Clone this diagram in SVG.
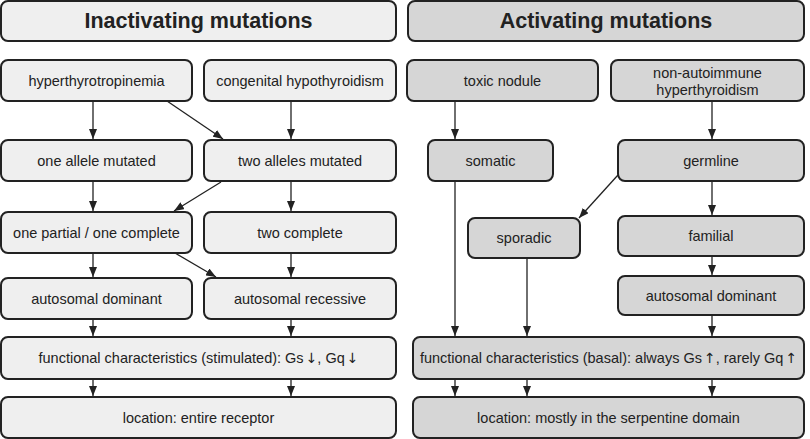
<svg xmlns="http://www.w3.org/2000/svg" width="810" height="439" viewBox="0 0 810 439">
<defs>
<style>
.l rect{fill:#efefef;stroke:#222;stroke-width:2}
.r rect{fill:#d6d6d6;stroke:#222;stroke-width:2}
text{font-family:"Liberation Sans",Arial,sans-serif;font-size:14.5px;fill:#222;text-anchor:middle;dominant-baseline:central}
text.t{font-size:21.5px;font-weight:bold}
tspan.a{font-family:"DejaVu Sans",sans-serif;font-size:14px}
#conn line{stroke:#222;stroke-width:1.3;marker-end:url(#ah)}
</style>
<marker id="ah" viewBox="0 0 10 8" refX="10" refY="4" markerWidth="10" markerHeight="8" markerUnits="userSpaceOnUse" orient="auto">
<path d="M0,0 L10,4 L0,8 Z" fill="#222"/>
</marker>
</defs>
<rect width="810" height="439" fill="#fff"/>

<g id="conn">
<line x1="93" y1="101" x2="93" y2="139"/>
<line x1="291" y1="101" x2="291" y2="139"/>
<line x1="167" y1="101" x2="223" y2="139"/>
<line x1="93" y1="182" x2="93" y2="211"/>
<line x1="291" y1="182" x2="291" y2="211"/>
<line x1="221" y1="182" x2="174" y2="211"/>
<line x1="93" y1="254" x2="93" y2="277"/>
<line x1="291" y1="254" x2="291" y2="277"/>
<line x1="175" y1="253" x2="216" y2="277"/>
<line x1="93" y1="320" x2="93" y2="336"/>
<line x1="291" y1="320" x2="291" y2="336"/>
<line x1="93" y1="380" x2="93" y2="396"/>
<line x1="291" y1="380" x2="291" y2="396"/>
<line x1="455" y1="101" x2="455" y2="139"/>
<line x1="712" y1="101" x2="712" y2="139"/>
<line x1="618" y1="175" x2="579" y2="218"/>
<line x1="712" y1="182" x2="712" y2="215"/>
<line x1="712" y1="257" x2="712" y2="275"/>
<line x1="455" y1="182" x2="455" y2="336"/>
<line x1="527" y1="259" x2="527" y2="336"/>
<line x1="712" y1="316" x2="712" y2="336"/>
<line x1="455" y1="380" x2="455" y2="396"/>
<line x1="527" y1="380" x2="527" y2="396"/>
<line x1="712" y1="380" x2="712" y2="396"/>
</g>

<g id="inactivating" class="l"><rect x="1" y="1" width="395" height="40" rx="7"/><text class="t" x="198.5" y="21">Inactivating mutations</text></g>
<g id="hyperthyrotropinemia" class="l"><rect x="1" y="60" width="191" height="41" rx="7"/><text x="96.5" y="80.5">hyperthyrotropinemia</text></g>
<g id="congenital" class="l"><rect x="204" y="60" width="192" height="41" rx="7"/><text x="300" y="80.5">congenital hypothyroidism</text></g>
<g id="one-allele" class="l"><rect x="1" y="140" width="191" height="41" rx="7"/><text x="96.5" y="160.5">one allele mutated</text></g>
<g id="two-alleles" class="l"><rect x="204" y="140" width="192" height="41" rx="7"/><text x="300" y="160.5">two alleles mutated</text></g>
<g id="one-partial" class="l"><rect x="1" y="212" width="191" height="41" rx="7"/><text x="96.5" y="232.5">one partial / one complete</text></g>
<g id="two-complete" class="l"><rect x="204" y="212" width="192" height="41" rx="7"/><text x="300" y="232.5">two complete</text></g>
<g id="auto-dom-l" class="l"><rect x="1" y="278" width="191" height="41" rx="7"/><text x="96.5" y="298.5">autosomal dominant</text></g>
<g id="auto-rec" class="l"><rect x="204" y="278" width="192" height="41" rx="7"/><text x="300" y="298.5">autosomal recessive</text></g>
<g id="func-l" class="l"><rect x="1" y="337" width="395" height="42" rx="7"/><text x="198.5" y="358">functional characteristics (stimulated): Gs<tspan class="a" dx="2">↓</tspan>, Gq<tspan class="a" dx="2">↓</tspan></text></g>
<g id="loc-l" class="l"><rect x="1" y="397" width="395" height="41" rx="7"/><text x="198.5" y="417.5">location: entire receptor</text></g>

<g id="activating" class="r"><rect x="408" y="1" width="396" height="40" rx="7"/><text class="t" x="606" y="21">Activating mutations</text></g>
<g id="toxic-nodule" class="r"><rect x="407" y="60" width="191" height="41" rx="7"/><text x="502.5" y="80.5">toxic nodule</text></g>
<g id="non-autoimmune" class="r"><rect x="611" y="60" width="193" height="41" rx="7"/><text x="707.5" y="72.5">non-autoimmune</text><text x="707.5" y="89.5">hyperthyroidism</text></g>
<g id="somatic" class="r"><rect x="428" y="140" width="125" height="41" rx="7"/><text x="490.5" y="160.5">somatic</text></g>
<g id="germline" class="r"><rect x="618" y="140" width="186" height="41" rx="7"/><text x="711" y="160.5">germline</text></g>
<g id="sporadic" class="r"><rect x="468" y="218" width="112" height="40" rx="7"/><text x="524" y="238">sporadic</text></g>
<g id="familial" class="r"><rect x="618" y="216" width="186" height="40" rx="7"/><text x="711" y="236">familial</text></g>
<g id="auto-dom-r" class="r"><rect x="618" y="276" width="186" height="39" rx="7"/><text x="711" y="295.5">autosomal dominant</text></g>
<g id="func-r" class="r"><rect x="413" y="337" width="391" height="42" rx="7"/><text x="608.5" y="358">functional characteristics (basal): always Gs<tspan class="a" dx="2">↑</tspan>, rarely Gq<tspan class="a" dx="2">↑</tspan></text></g>
<g id="loc-r" class="r"><rect x="413" y="397" width="391" height="41" rx="7"/><text x="608.5" y="417.5">location: mostly in the serpentine domain</text></g>
</svg>
